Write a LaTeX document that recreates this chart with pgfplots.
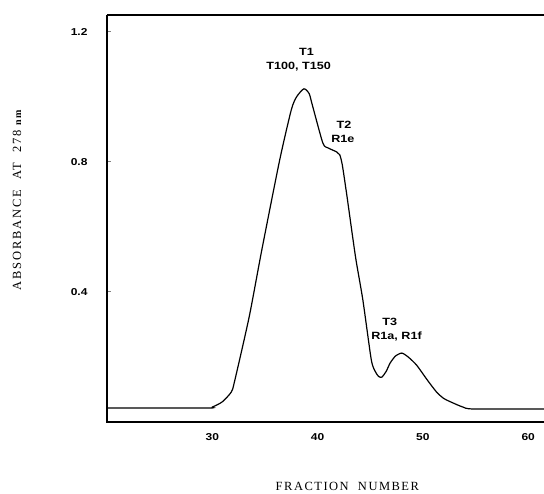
\documentclass[border=0pt]{standalone}
\usepackage{fontspec}
\setmainfont{Liberation Serif}
\newfontfamily\tickfont[FakeStretch=1.2]{Liberation Sans}
\newfontfamily\lblfont[LetterSpace=12]{Liberation Serif}
\newfontfamily\ylblfont[LetterSpace=15]{Liberation Serif}
\usepackage{pgfplots}
\pgfplotsset{compat=1.18}

\begin{document}
\begin{tikzpicture}
\begin{axis}[
    name=ax,
    scale only axis,
    width=437pt, height=407pt,
    xmin=20, xmax=61.5,
    ymin=0, ymax=1.252,
    axis line style={draw=none},
    xtick={30,40,50,60},
    ytick={0.4,0.8,1.2},
    yticklabels={0.4,0.8,1.2},
    xtick style={draw=none},
    ytick pos=left,
    tick align=inside,
    major tick length=4pt,
    ytick style={line width=1pt},
    /pgf/number format/assume math mode=true,
    tick label style={font=\tickfont\bfseries\fontsize{10}{12}\selectfont},
    xticklabel style={yshift=-8pt},
    yticklabel style={xshift=-16pt},
    xlabel={\lblfont\fontsize{12.5}{14}\selectfont FRACTION\ \ NUMBER},
    ylabel={\ylblfont\fontsize{12.5}{14}\selectfont ABSORBANCE\ \ AT\ \ 278 {\fontsize{10}{11}\selectfont\bfseries nm}},
    every axis x label/.style={at={(rel axis cs:0.55,0)}, anchor=center, yshift=-64pt},
    every axis y label/.style={at={(rel axis cs:0,0.545)}, anchor=center, xshift=-90pt, rotate=90},
    clip=false,
]
\draw[line width=2pt] (rel axis cs:0,1) -- (rel axis cs:1,1);
\draw[line width=1.3pt] (rel axis cs:0,1) -- (rel axis cs:0,0) -- (rel axis cs:1,0);

\addplot[black, line width=1.2pt, smooth, tension=0.4] coordinates {
    (20,0.043) (29.5,0.043) (30.0,0.046) (30.95,0.062) (31.8,0.092)
    (32.1,0.123) (33.5,0.323) (34.7,0.529) (36.4,0.806) (37.5,0.96)
    (38.0,1.0) (38.7,1.025) (39.2,1.01) (39.5,0.975) (40.5,0.858)
    (41.0,0.843) (41.8,0.831) (42.1,0.822) (42.35,0.79) (42.8,0.692)
    (43.6,0.508) (44.3,0.375) (45.1,0.191) (45.5,0.154) (45.8,0.14)
    (46.1,0.138) (46.5,0.155) (46.9,0.182) (47.4,0.203) (48.0,0.212)
    (48.6,0.2) (49.4,0.175) (50.4,0.13) (51.3,0.092) (52.0,0.072)
    (52.9,0.058) (53.8,0.046) (54.8,0.040) (61.5,0.040)
};

\begin{scope}[every node/.style={font=\tickfont\bfseries\fontsize{10.5}{12}\selectfont, inner sep=0pt, anchor=center}]
\node at (axis cs:38.95,1.14) {T1};
\node at (axis cs:38.2,1.092) {T100, T150};
\node at (axis cs:42.5,0.914) {T2};
\node at (axis cs:42.4,0.871) {R1e};
\node at (axis cs:46.85,0.308) {T3};
\node at (axis cs:47.5,0.262) {R1a, R1f};
\end{scope}
\end{axis}
\pgfresetboundingbox
\path (ax.south west) ++(-107pt,-72pt) rectangle ++(544pt,494pt);
\end{tikzpicture}
\end{document}
